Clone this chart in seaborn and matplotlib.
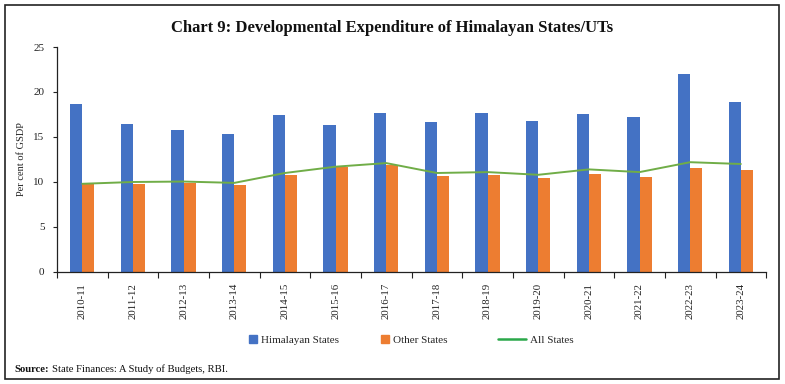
import numpy as np
import pandas as pd
import matplotlib
matplotlib.use("Agg")
import matplotlib.pyplot as plt
import seaborn as sns
from matplotlib.patches import Patch, Rectangle
from matplotlib.lines import Line2D

# Data (per cent of GSDP)
years = ["2010-11", "2011-12", "2012-13", "2013-14", "2014-15", "2015-16", "2016-17",
         "2017-18", "2018-19", "2019-20", "2020-21", "2021-22", "2022-23", "2023-24"]
himalayan = [18.7, 16.4, 15.8, 15.3, 17.4, 16.3, 17.7, 16.7, 17.7, 16.8, 17.55, 17.2, 22.0, 18.9]
other = [9.8, 9.8, 9.9, 9.7, 10.8, 11.7, 11.9, 10.7, 10.8, 10.4, 10.9, 10.5, 11.6, 11.3]
all_states = [9.8, 10.0, 10.05, 9.9, 11.0, 11.7, 12.1, 11.0, 11.1, 10.8, 11.4, 11.1, 12.2, 12.0]

series_names = ["Himalayan States", "Other States"]
colors = {"Himalayan States": "#4472C4", "Other States": "#ED7D31"}
line_color = "#70AD47"

bars = pd.DataFrame({
    "Year": years * 2,
    "Series": [series_names[0]] * len(years) + [series_names[1]] * len(years),
    "Value": himalayan + other,
})

sns.set_style("white")
plt.rcParams["font.family"] = ["Liberation Serif", "DejaVu Serif"]

fig = plt.figure(figsize=(7.85, 3.84), dpi=100)
ax = fig.add_axes([0.0726, 0.2917, 0.9034, 0.5859])

sns.barplot(data=bars, x="Year", y="Value", hue="Series", palette=colors,
            width=0.48, linewidth=0, saturation=1, legend=False, ax=ax)
sns.lineplot(x=np.arange(len(years)), y=all_states, color=line_color,
             linewidth=1.4, ax=ax)

ax.set_xlim(-0.5, len(years) - 0.5)
ax.set_ylim(0, 25)
ax.set_yticks(range(0, 26, 5))
ax.set_xticks(np.arange(len(years)))
ax.set_xticklabels(years, rotation=90, fontsize=7.8)
ax.set_xticks(np.arange(len(years) + 1) - 0.5, minor=True)
ax.tick_params(axis="x", which="major", length=0, pad=8, colors="#222222")
ax.tick_params(axis="x", which="minor", length=4, width=0.8, color="#222222", bottom=True)
ax.tick_params(axis="y", length=3, width=0.8, pad=6, labelsize=8,
               colors="#222222", left=True)
ax.set_xlabel("")
ax.set_ylabel("Per cent of GSDP", fontsize=7.5, labelpad=5, color="#222222")
for side in ["top", "right"]:
    ax.spines[side].set_visible(False)
for side in ["left", "bottom"]:
    ax.spines[side].set_color("#222222")
    ax.spines[side].set_linewidth(0.9)

# legend entries placed one by one, like the spaced-out Excel legend
legend_items = [
    (Patch(color=colors[series_names[0]]), series_names[0], 249, 0.72),
    (Patch(color=colors[series_names[1]]), series_names[1], 381, 0.72),
    (Line2D([], [], color="#2BA84A", linewidth=1.8), "All States", 498, 2.5),
]
for handle, label, x_px, hlen in legend_items:
    leg = fig.legend([handle], [label], loc="center left",
                     bbox_to_anchor=(x_px / 785, 0.115), frameon=False,
                     fontsize=8, handlelength=hlen, handleheight=0.72,
                     handletextpad=0.35, borderpad=0, borderaxespad=0)

fig.text(0.5, 0.928, "Chart 9: Developmental Expenditure of Himalayan States/UTs",
         ha="center", va="center", fontsize=12, fontweight="bold", color="#111111")
fig.text(0.019, 0.039, "Source:", ha="left", va="center", fontsize=7.7,
         fontweight="bold", color="#111111")
fig.text(0.0665, 0.039, "State Finances: A Study of Budgets, RBI.", ha="left",
         va="center", fontsize=7.7, color="#111111")

fig.patches.append(Rectangle((0.0064, 0.013), 0.986, 0.974, transform=fig.transFigure,
                             fill=False, edgecolor="#222222", linewidth=1.2))

fig.savefig("out.png", dpi=100)
